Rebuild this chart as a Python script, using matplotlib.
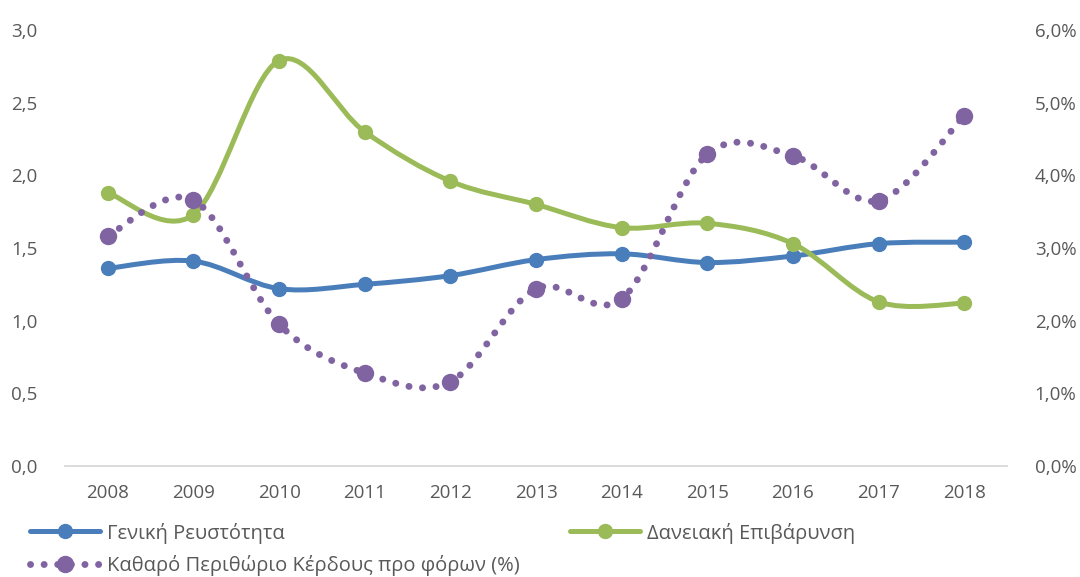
import matplotlib
matplotlib.use("Agg")
import matplotlib.pyplot as plt
from matplotlib.path import Path
from matplotlib.patches import PathPatch
from matplotlib.lines import Line2D
from matplotlib.ticker import FuncFormatter

plt.rcParams['font.family'] = ['Open Sans', 'DejaVu Sans']

years = ['2008', '2009', '2010', '2011', '2012', '2013', '2014', '2015', '2016', '2017', '2018']
liquidity = [1.36, 1.41, 1.22, 1.25, 1.31, 1.42, 1.46, 1.40, 1.445, 1.53, 1.54]
leverage = [1.88, 1.73, 2.79, 2.30, 1.96, 1.80, 1.64, 1.67, 1.53, 1.13, 1.12]
margin = [3.17, 3.66, 1.95, 1.28, 1.16, 2.44, 2.30, 4.29, 4.27, 3.65, 4.82]

BLUE = '#4A7EBB'
GREEN = '#9BBB59'
PURPLE = '#8064A2'
TXT = '#595959'


def smooth_path(xs, ys):
    verts = [(xs[0], ys[0])]
    codes = [Path.MOVETO]
    n = len(xs)
    for i in range(n - 1):
        x0, y0 = (xs[i - 1], ys[i - 1]) if i > 0 else (xs[i], ys[i])
        x1, y1 = xs[i], ys[i]
        x2, y2 = xs[i + 1], ys[i + 1]
        x3, y3 = (xs[i + 2], ys[i + 2]) if i + 2 < n else (x2, y2)
        c1 = (x1 + (x2 - x0) / 6, y1 + (y2 - y0) / 6)
        c2 = (x2 - (x3 - x1) / 6, y2 - (y3 - y1) / 6)
        verts += [c1, c2, (x2, y2)]
        codes += [Path.CURVE4] * 3
    return Path(verts, codes)


fig = plt.figure(figsize=(10.8, 5.77), dpi=100)
ax = fig.add_axes([65 / 1080, 1 - 466 / 577, (1007 - 65) / 1080, (466 - 30) / 577])
ax2 = ax.twinx()

xs = list(range(len(years)))
dot_style = (0, (0.01, 1.95))

ax.add_patch(PathPatch(smooth_path(xs, liquidity), fill=False, edgecolor=BLUE, lw=3.6,
                       capstyle='round', zorder=3))
ax.plot(xs, liquidity, 'o', color=BLUE, ms=10, zorder=4)
ax.add_patch(PathPatch(smooth_path(xs, leverage), fill=False, edgecolor=GREEN, lw=3.6,
                       capstyle='round', zorder=3))
ax.plot(xs, leverage, 'o', color=GREEN, ms=10, zorder=4)

ax2.add_patch(PathPatch(smooth_path(xs, margin), fill=False, edgecolor=PURPLE, lw=5,
                        linestyle=dot_style, capstyle='round', zorder=3))
ax2.plot(xs, margin, 'o', color=PURPLE, ms=11.5, zorder=4)

ax.set_xlim(-0.5, len(years) - 0.5)
ax.set_ylim(0, 3.0)
ax2.set_ylim(0, 6.0)
ax.set_xticks(xs)
ax.set_xticklabels(years)
ax.set_yticks([0, 0.5, 1.0, 1.5, 2.0, 2.5, 3.0])
ax.yaxis.set_major_formatter(FuncFormatter(lambda v, p: f"{v:.1f}".replace('.', ',')))
ax2.set_yticks([0, 1, 2, 3, 4, 5, 6])
ax2.yaxis.set_major_formatter(FuncFormatter(lambda v, p: f"{v:.1f}%".replace('.', ',')))

for a in (ax, ax2):
    for s in a.spines.values():
        s.set_visible(False)
    a.tick_params(length=0, labelsize=13.5, labelcolor=TXT)
ax.spines['bottom'].set_visible(True)
ax.spines['bottom'].set_color('#D9D9D9')
ax.spines['bottom'].set_linewidth(1.3)
ax.tick_params(axis='x', pad=13)
ax.tick_params(axis='y', pad=20)
ax2.tick_params(axis='y', pad=20)

h_blue = Line2D([0], [0], color=BLUE, lw=3.6, marker='o', ms=10, solid_capstyle='round')
h_green = Line2D([0], [0], color=GREEN, lw=3.6, marker='o', ms=10, solid_capstyle='round')
h_purple = Line2D([0], [0], color=PURPLE, lw=5, linestyle=dot_style, marker='o', ms=11.5,
                  dash_capstyle='round')

common = dict(frameon=False, fontsize=14.5, labelcolor=TXT, handlelength=3.5,
              handletextpad=0.3, numpoints=1, borderaxespad=0, borderpad=0)
leg1 = fig.legend([h_blue], ['Γενική Ρευστότητα'], loc='center left',
                  bbox_to_anchor=(30 / 1080, 1 - 533 / 577), **common)
leg2 = fig.legend([h_green], ['Δανειακή Επιβάρυνση'], loc='center left',
                  bbox_to_anchor=(570 / 1080, 1 - 533 / 577), **common)
leg3 = fig.legend([h_purple], ['Καθαρό Περιθώριο Κέρδους προ φόρων (%)'], loc='center left',
                  bbox_to_anchor=(30 / 1080, 1 - 566 / 577), **common)

fig.savefig('out.png', dpi=100)
